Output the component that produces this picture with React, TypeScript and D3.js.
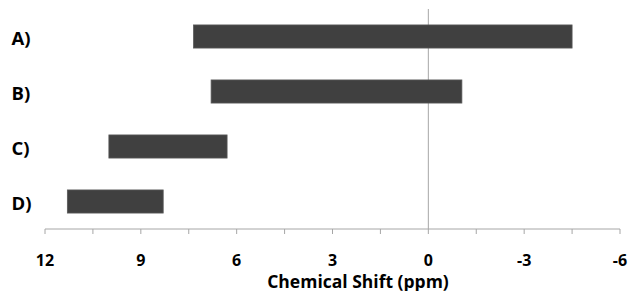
import React, { useRef, useEffect } from 'react'
import { select, scaleLinear, scaleBand, range } from 'd3'

// categories and bar ranges (ppm)
const categories = ['A)', 'B)', 'C)', 'D)']
const startShift = [7.35, 6.8, 10.0, 11.3]
const endShift = [-4.5, -1.05, 6.3, 8.3]
const tickLabels = [12, 9, 6, 3, 0, -3, -6]

export default function App() {
  const ref = useRef<SVGSVGElement>(null)

  useEffect(() => {
    const svg = select(ref.current)
    svg.selectAll('*').remove()

    const width = 629
    const height = 291
    const margin = { top: 9, right: 9, bottom: 62, left: 45 }
    const innerWidth = width - margin.left - margin.right
    const innerHeight = height - margin.top - margin.bottom

    const font = "'Open Sans', sans-serif"

    const xScale = scaleLinear().domain([12, -6]).range([0, innerWidth])
    const yScale = scaleBand()
      .domain(categories)
      .range([0, innerHeight])
      .paddingInner(0.58)
      .paddingOuter(0.29)

    const g = svg.append('g')
      .attr('transform', `translate(${margin.left},${margin.top})`)

    // vertical zero line
    g.append('line')
      .attr('x1', xScale(0)).attr('x2', xScale(0))
      .attr('y1', 0).attr('y2', innerHeight)
      .attr('stroke', '#a6a6a6')
      .attr('stroke-width', 1)

    // bars
    g.selectAll('rect.bar').data(categories)
      .enter().append('rect')
      .attr('class', 'bar')
      .attr('x', (d, i) => xScale(startShift[i]))
      .attr('y', d => yScale(d) as number)
      .attr('width', (d, i) => xScale(endShift[i]) - xScale(startShift[i]))
      .attr('height', yScale.bandwidth())
      .attr('fill', '#404040')
      .attr('stroke', '#595959')
      .attr('stroke-width', 0.8)

    // category labels
    g.selectAll('text.cat').data(categories)
      .enter().append('text')
      .attr('class', 'cat')
      .attr('x', -33.5)
      .attr('y', d => (yScale(d) as number) + yScale.bandwidth() / 2 + 8.7)
      .attr('font-family', font)
      .attr('font-weight', 'bold')
      .attr('font-size', 18.5)
      .attr('fill', '#000')
      .text(d => d)

    // x axis
    const axis = g.append('g').attr('transform', `translate(0,${innerHeight})`)
    axis.append('line')
      .attr('x1', 0).attr('x2', innerWidth)
      .attr('stroke', '#a6a6a6')
    axis.selectAll('line.tick').data(range(12, -6.01, -1.5))
      .enter().append('line')
      .attr('class', 'tick')
      .attr('x1', d => xScale(d)).attr('x2', d => xScale(d))
      .attr('y1', 0).attr('y2', 5)
      .attr('stroke', '#a6a6a6')
    axis.selectAll('text').data(tickLabels)
      .enter().append('text')
      .attr('x', d => xScale(d))
      .attr('y', 36.5)
      .attr('text-anchor', 'middle')
      .attr('font-family', font)
      .attr('font-weight', 'bold')
      .attr('font-size', 16)
      .attr('fill', '#000')
      .text(d => d)

    svg.append('text')
      .attr('x', 358)
      .attr('y', 287.5)
      .attr('text-anchor', 'middle')
      .attr('font-family', font)
      .attr('font-weight', 'bold')
      .attr('font-size', 17.5)
      .attr('fill', '#000')
      .text('Chemical Shift (ppm)')
  }, [])

  return (
    <svg ref={ref} width={629} height={291}
      style={{ position: 'absolute', left: 0, top: 0, background: '#fff' }} />
  )
}
